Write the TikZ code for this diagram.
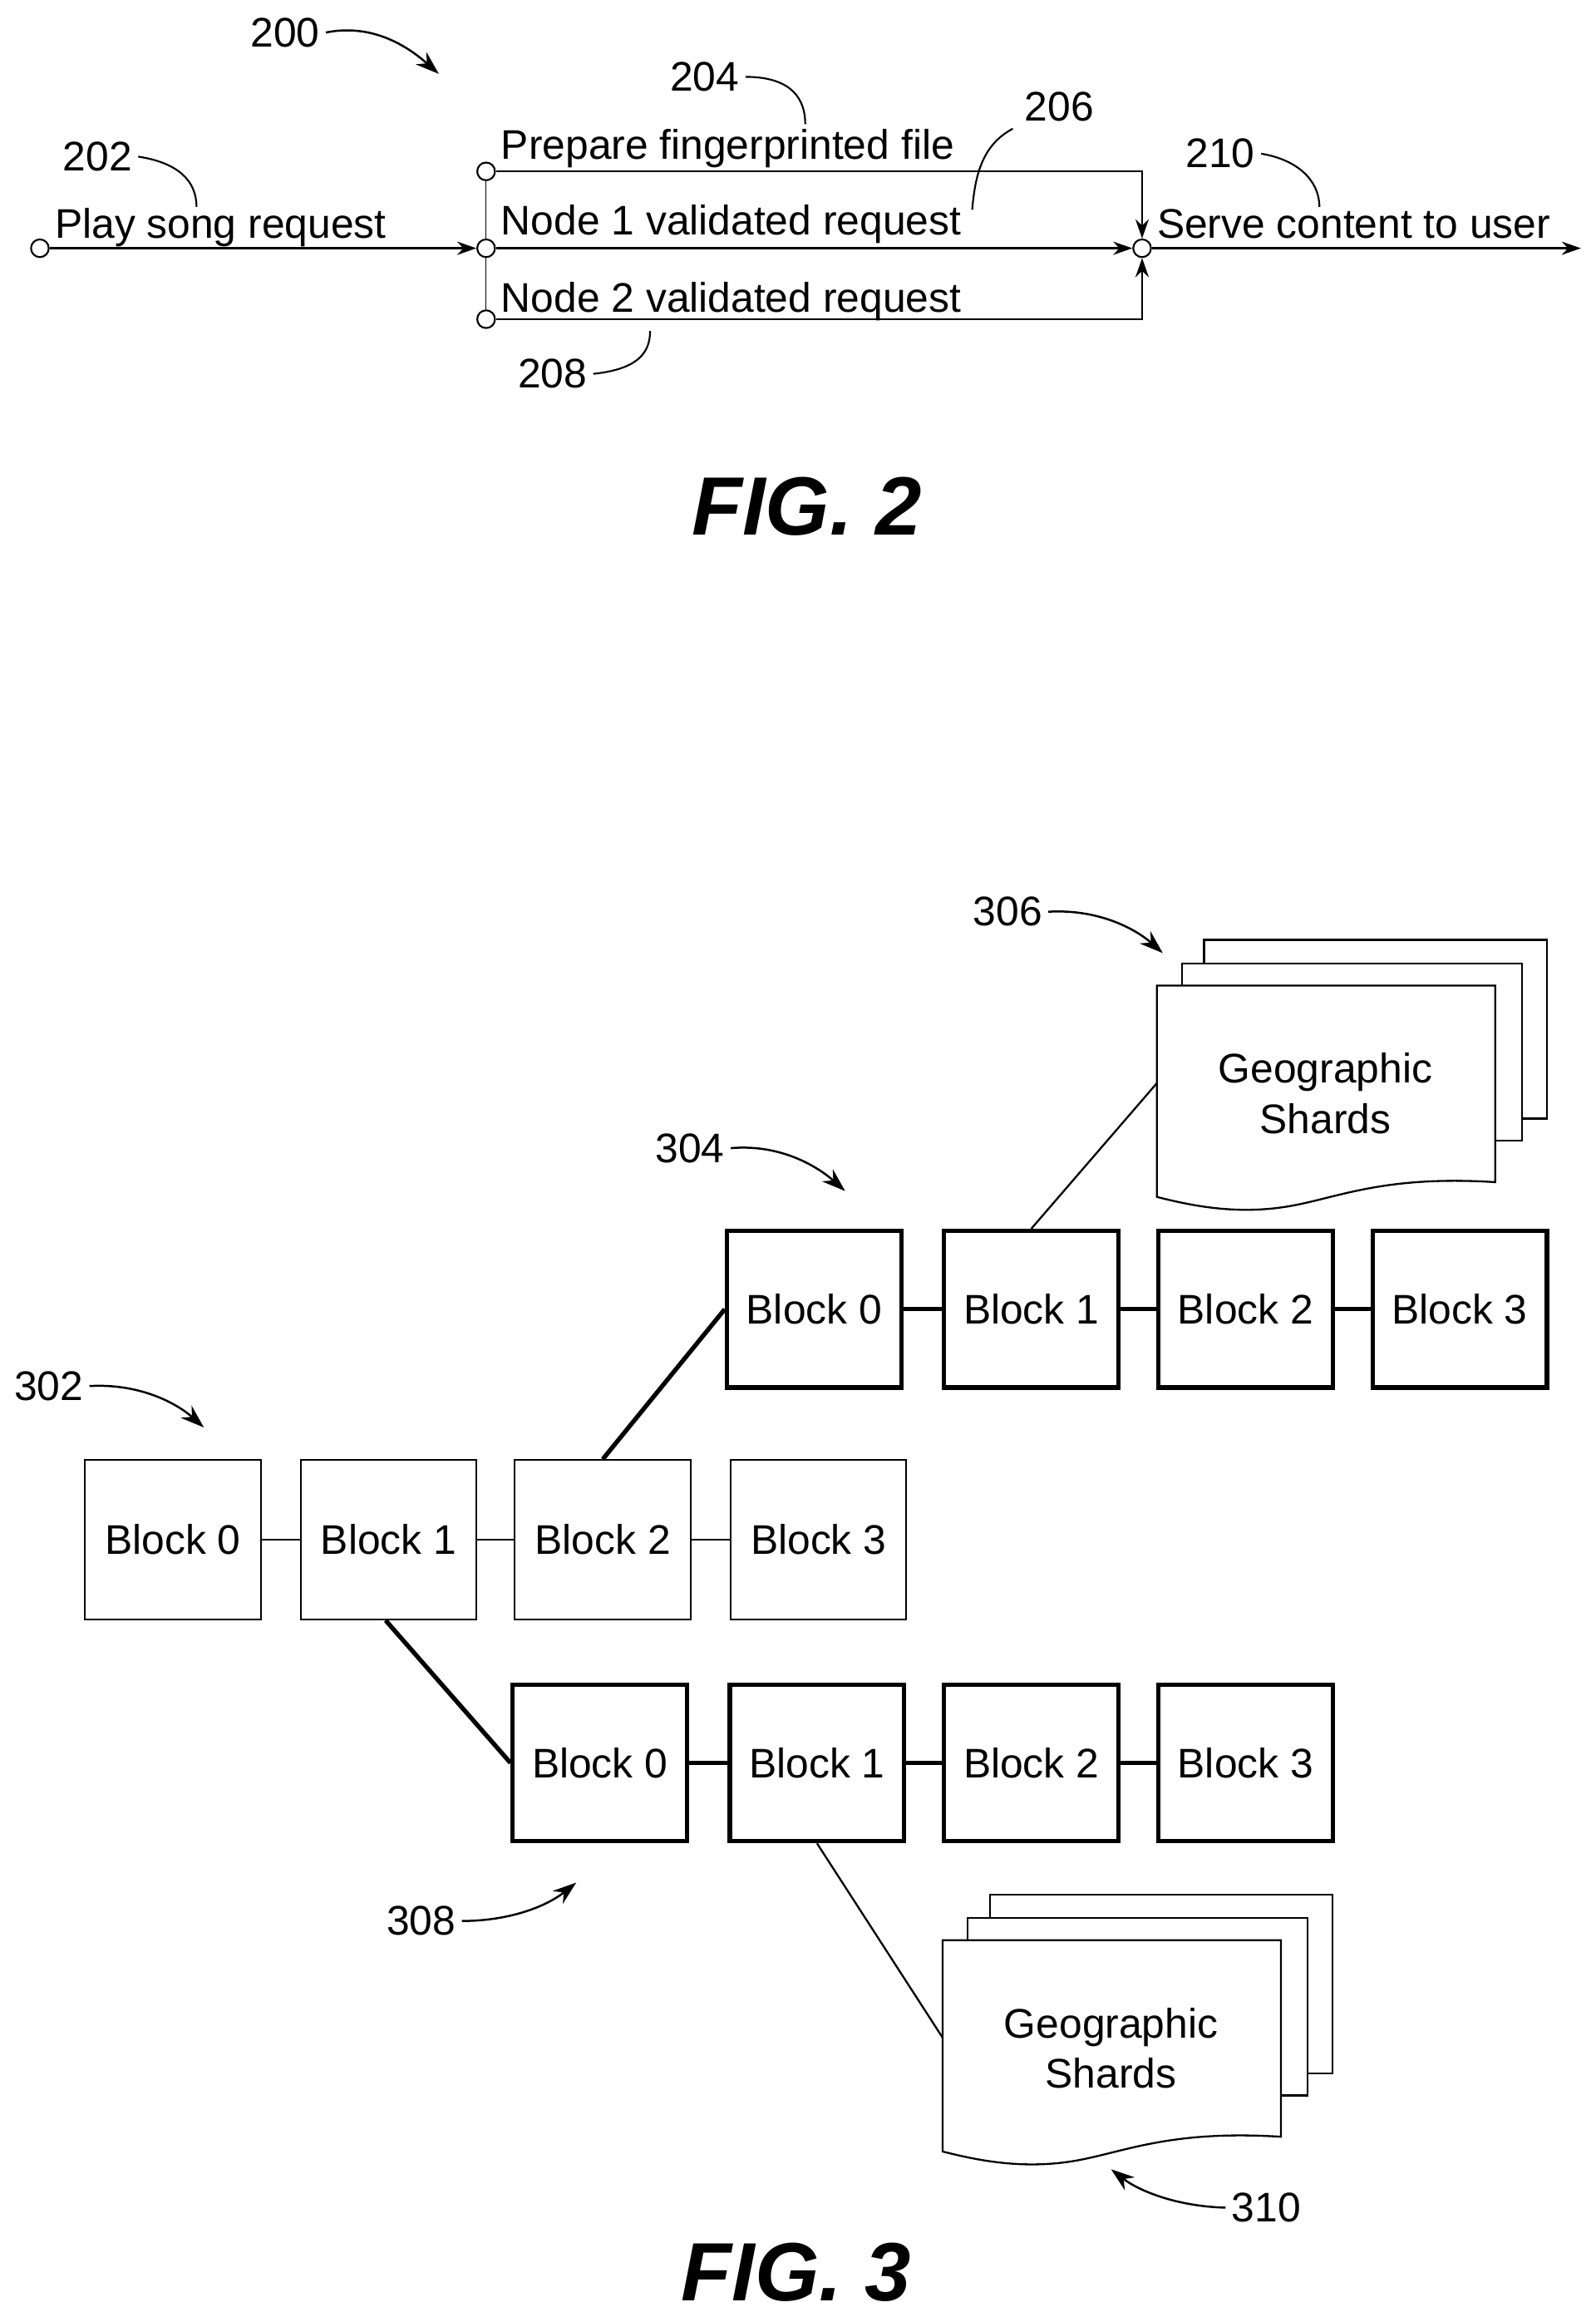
\documentclass[tikz,border=0pt]{standalone}
\usepackage{fontspec}
\setmainfont{Liberation Sans}
\usetikzlibrary{arrows.meta,positioning}
\tikzset{
  lbl/.style={font=\fontsize{28}{32}\selectfont, inner sep=0pt},
  flow/.style={line width=1.4pt, -{Stealth[length=13pt,width=9pt]}},
  dot/.style={circle, draw, fill=white, line width=1.2pt, minimum size=12pt, inner sep=0pt},
  lead/.style={line width=1.2pt},
  point/.style={line width=1.4pt, -{Stealth[length=16pt,width=11pt]}},
  blk/.style={draw, line width=1.1pt, minimum width=119pt, minimum height=108pt, inner sep=0pt, font=\fontsize{28}{32}\selectfont},
  tblk/.style={blk, line width=3pt, minimum width=118pt, minimum height=106pt},
  sheet/.style={draw, fill=white, line width=1.3pt},
}
% stack of three shard sheets, front sheet top-left at (#1,#2)
\newcommand{\shardstack}[3]{%
  \begin{scope}[shift={(#1,#2)}]
    \draw[sheet] (32,-31) rectangle (264,90);
    \draw[sheet] (17,-15) rectangle (247,105);
    \draw[sheet] (0,0) -- (229,0) -- (229,133) .. controls (150,128) and (120,145) .. (85,150)
      .. controls (50,155) and (20,148) .. (0,143) -- cycle;
    \node[font=\fontsize{28}{34}\selectfont, align=center] at (114,73) {Geographic\\Shards};
    \coordinate (#3) at (0,66);
  \end{scope}}
\begin{document}
\begin{tikzpicture}[x=1pt,y=-1pt]
\useasboundingbox (0,0) rectangle (1080,1568);

% FIG. 2
\node[dot] (start) at (27,168) {};
\node[dot] (pf) at (329,116) {};
\node[dot] (n1) at (329,168) {};
\node[dot] (n2) at (329,216) {};
\node[dot] (serve) at (773,168) {};
\coordinate (out) at (1070,168);
\draw[line width=0.8pt] (pf) -- (n1) -- (n2);
\draw[flow] (start) -- (n1);
\draw[flow] (n1) -- (serve);
\draw[flow] (pf) -| (serve);
\draw[flow] (n2) -| (serve);
\draw[flow] (serve) -- (out);

\node[lbl, anchor=base west] at (37,161) {Play song request};
\node[lbl, anchor=base west] at (339,108) {Prepare fingerprinted file};
\node[lbl, anchor=base west] at (339,159) {Node 1 validated request};
\node[lbl, anchor=base west] at (339,211) {Node 2 validated request};
\node[lbl, anchor=base west] at (783,161) {Serve content to user};

\node[lbl] (r200) at (193,22) {200};
\node[lbl] (r202) at (66,106) {202};
\node[lbl] (r204) at (477,52) {204};
\node[lbl] (r206) at (717,72) {206};
\node[lbl] (r208) at (374,253) {208};
\node[lbl] (r210) at (826,104) {210};
\draw[point] (r200.east) ++(4,0) .. controls (255,15) and (280,35) .. (297,50);
\draw[lead] (r202.east) ++(4,0) .. controls (120,110) and (133,122) .. (133,140);
\draw[lead] (r204.east) ++(4,0) .. controls (530,52) and (545,62) .. (545,84);
\draw[lead] (r206.south west) ++(-8,5) .. controls (665,98) and (660,118) .. (658,142);
\draw[lead] (r208.east) ++(4,0) .. controls (430,250) and (440,240) .. (440,224);
\draw[lead] (r210.east) ++(4,0) .. controls (878,108) and (893,122) .. (893,140);

\node[font=\bfseries\itshape\fontsize{56}{60}\selectfont] (fig2) at (546,343) {FIG. 2};

% FIG. 3 -- main chain
\node[blk] (a0) at (117,1042) {Block 0};
\node[blk] (a1) at (263,1042) {Block 1};
\node[blk] (a2) at (408,1042) {Block 2};
\node[blk] (a3) at (554,1042) {Block 3};
\draw[line width=1.1pt] (a0) -- (a1) (a1) -- (a2) (a2) -- (a3);

% upper chain
\node[tblk] (b0) at (551,886) {Block 0};
\node[tblk] (b1) at (698,886) {Block 1};
\node[tblk] (b2) at (843,886) {Block 2};
\node[tblk] (b3) at (988,886) {Block 3};
\draw[line width=3pt] (b0) -- (b1) (b1) -- (b2) (b2) -- (b3);
\draw[line width=3pt] (a2.north) -- (b0.west);

% lower chain
\node[tblk] (c0) at (406,1193) {Block 0};
\node[tblk] (c1) at (553,1193) {Block 1};
\node[tblk] (c2) at (698,1193) {Block 2};
\node[tblk] (c3) at (843,1193) {Block 3};
\draw[line width=3pt] (c0) -- (c1) (c1) -- (c2) (c2) -- (c3);
\draw[line width=3pt] (a1.south) ++(-2,0) -- (c0.west);

% shards
\shardstack{783}{667}{sA}
\shardstack{638}{1313}{sB}
\draw[line width=1.3pt] (b1.north) -- (sA);
\draw[line width=1.3pt] (c1.south) -- (sB);

\node[lbl] (r302) at (33,938) {302};
\node[lbl] (r304) at (467,777) {304};
\node[lbl] (r306) at (682,617) {306};
\node[lbl] (r308) at (285,1300) {308};
\node[lbl] (r310) at (857,1494) {310};
\draw[point] (r302.east) ++(4,0) .. controls (95,936) and (120,950) .. (138,966);
\draw[point] (r304.east) ++(4,0) .. controls (529,774) and (554,790) .. (572,806);
\draw[point] (r306.east) ++(4,0) .. controls (744,615) and (769,629) .. (787,645);
\draw[point] (r308.east) ++(4,0) .. controls (345,1300) and (370,1290) .. (390,1274);
\draw[point] (r310.west) ++(-4,0) .. controls (795,1493) and (770,1482) .. (752,1468);

\node[font=\bfseries\itshape\fontsize{56}{60}\selectfont] (fig3) at (539,1538) {FIG. 3};
\end{tikzpicture}
\end{document}
